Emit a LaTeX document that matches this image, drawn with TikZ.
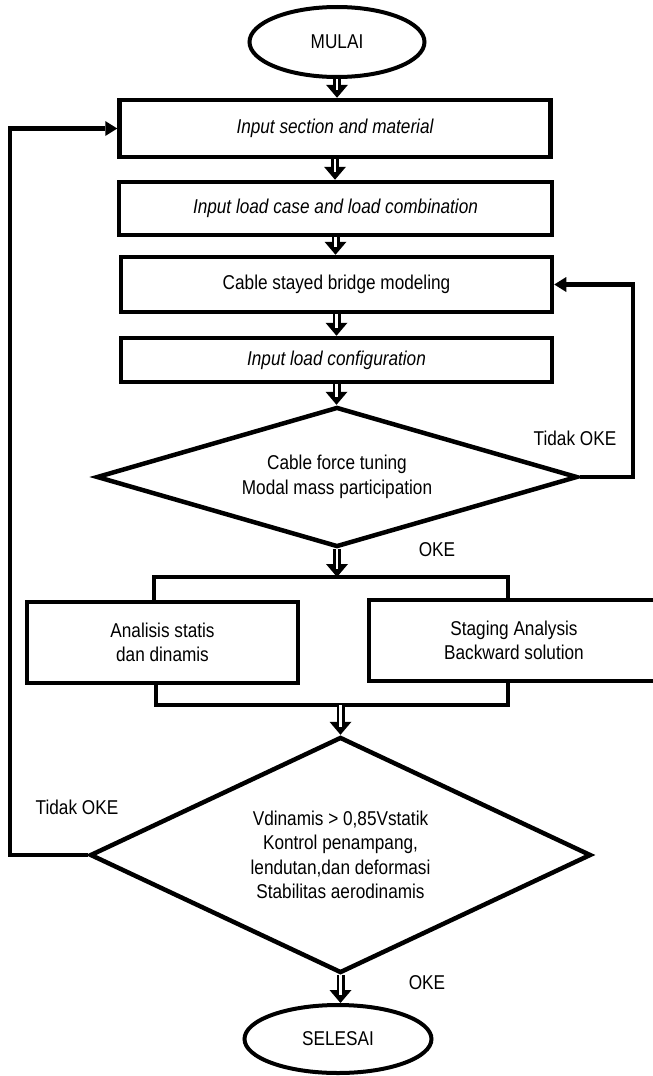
\documentclass[tikz,border=0pt]{standalone}
\usepackage{fontspec}
\setmainfont{Liberation Sans}[FakeStretch=0.86]
\usetikzlibrary{shapes.geometric}
\usetikzlibrary{arrows.meta}

\begin{document}
\begin{tikzpicture}[x=1pt,y=-1pt,
	every node/.style={font=\fontsize{20}{24.5}\selectfont},
	miring/.style={font=\fontsize{20}{24.5}\selectfont\itshape},
	kotak/.style={draw,line width=4.5pt,rectangle,inner sep=0pt,align=center},
	oval/.style={draw,line width=4pt,ellipse,inner sep=0pt},
	belah/.style={draw,line width=4.5pt,diamond,inner sep=0pt,align=center},
	garis/.style={line width=4.5pt},
	panah/.style={line width=8pt,-{Triangle[width=22pt,length=13pt,line width=0pt]},
		postaction={draw=white,line width=2.5pt,-,shorten >=8pt}},
	balik/.style={line width=4.5pt,-{Triangle[width=15pt,length=12pt,line width=0pt]}}]
	\useasboundingbox (0,0) rectangle (653,1076);
	\clip (0,0) rectangle (653,1076);
		\node[oval,minimum width=175pt,minimum height=70pt] (mulai) at (337,42) {MULAI};
		\node[kotak,miring,minimum width=431pt,minimum height=57pt] (sect) at (335,128.5) {Input section and material};
		\node[kotak,miring,minimum width=433pt,minimum height=53pt] (load) at (335.5,208.5) {Input load case and load combination};
		\node[kotak,minimum width=431pt,minimum height=55pt] (model) at (336.5,284.5) {Cable stayed bridge modeling};
		\node[kotak,miring,minimum width=431pt,minimum height=44pt] (conf) at (336.5,360) {Input load configuration};
		\node[belah,aspect=3.4,minimum width=481pt,minimum height=140pt] (tune) at (337,477) {Cable force tuning\\Modal mass participation};
		\node[kotak,minimum width=271pt,minimum height=81pt] (stat) at (162.5,642.5) {Analisis statis\\dan dinamis};
		\node[kotak,minimum width=290pt,minimum height=81pt] (stage) at (514,640.5) {Staging Analysis\\Backward solution};
		\node[belah,aspect=2.1,minimum width=501pt,minimum height=236pt] (check) at (340.5,855) {Vdinamis > 0,85Vstatik\\Kontrol penampang,\\lendutan,dan deformasi\\Stabilitas aerodinamis};
		\node[oval,minimum width=187pt,minimum height=68pt] (selesai) at (338,1039) {SELESAI};
		% fork to the two analyses
		\coordinate (cabL) at (154,577);
		\coordinate (cabR) at (508,577);
		\coordinate (cabA) at (tune.south |- cabL);
		\coordinate (gabL) at (156,705);
		\coordinate (gabR) at (508,705);
		\coordinate (gabA) at (check.north |- gabL);
		\draw[garis] (cabL |- stat.north) -- (cabL) -- (cabR) -- (cabR |- stage.north);
		\draw[garis] (gabL |- stat.south) -- (gabL) -- (gabR) -- (gabR |- stage.south);
		% main flow
		\draw[panah] (mulai.south) -- (mulai.south |- sect.north);
		\draw[panah] (sect.south) -- (sect.south |- load.north);
		\draw[panah] (load.south) -- (load.south |- model.north);
		\draw[panah] (model.south) -- (model.south |- conf.north);
		\draw[panah] (conf.south) -- (conf.south |- tune.north);
		\draw[panah] (tune.south) -- (cabA);
		\draw[panah] (gabA) -- (check.north);
		\draw[panah] (check.south) -- (check.south |- selesai.north);
		% loops back
		\coordinate (kanan) at (633,477);
		\coordinate (kiri) at (10,855);
		\draw[balik] (tune.east) -- (kanan) |- (model.east);
		\draw[balik] (check.west) -- (kiri) |- (sect.west);
		\node (tdk1) at (575,438) {Tidak OKE};
		\node (oke1) at (437,550) {OKE};
		\node (tdk2) at (77,807) {Tidak OKE};
		\node (oke2) at (427,983) {OKE};
\end{tikzpicture}
\end{document}
